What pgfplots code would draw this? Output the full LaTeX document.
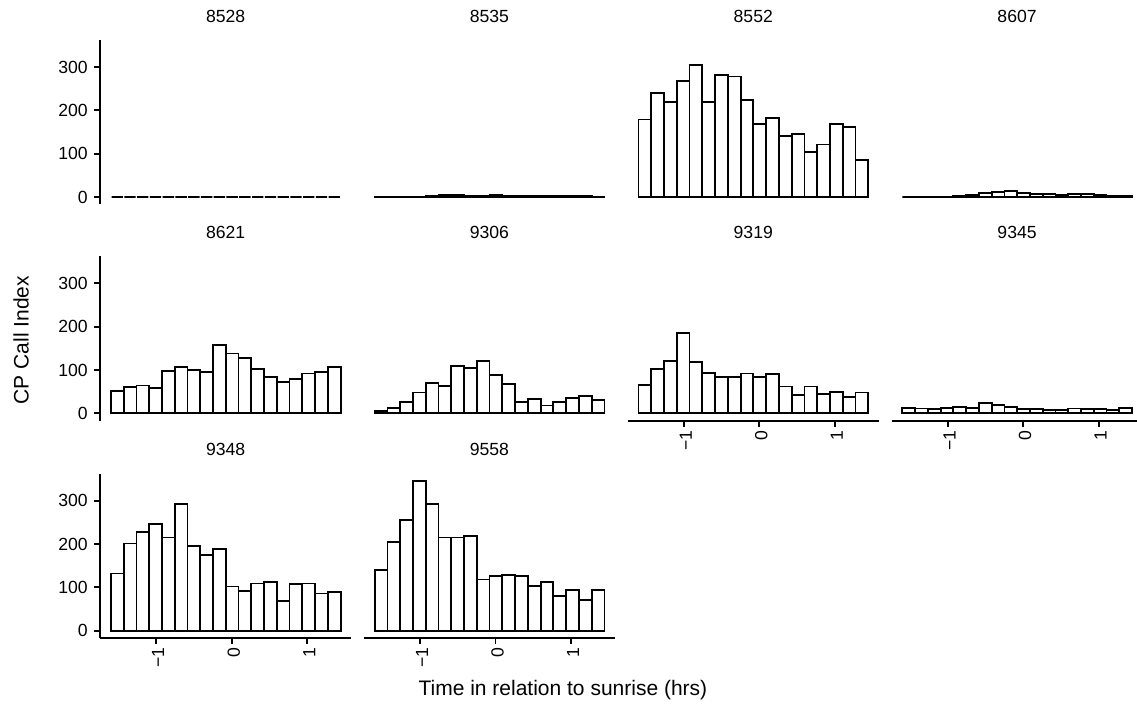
\documentclass[border=0pt]{standalone}
\usepackage{fontspec}
\setmainfont{Liberation Sans}
\usepackage{pgfplots}
\usepackage{pgfplotstable}
\pgfplotsset{compat=1.18}

\newcommand\tickfont{\fontsize{17.6pt}{20pt}\selectfont}
\newcommand\labfont{\fontsize{21pt}{24pt}\selectfont}

\pgfplotstableread{
x      a8528 a8535 a8552 a8607 a8621 a9306 a9319 a9345 a9348 a9558
-1.515 0     1     179   0     52    6     66    12    132   140
-1.346 0     1     240   0     60    12    103   11    201   204
-1.177 0     1     219   0     64    26    121   9     228   255
-1.008 0     1     268   1     58    48    186   13    246   345
-0.839 0     2     305   2     97    70    118   14    215   292
-0.670 0     4     219   5     106   63    93    13    292   215
-0.501 0     4     282   9     100   110   84    23    195   215
-0.332 0     2     278   11    95    105   84    20    174   219
-0.163 0     2     223   14    158   120   92    14    188   118
0.006  0     5     168   10    138   88    84    9     102   126
0.175  0     2     182   6     127   68    90    9     92    129
0.344  0     2     141   6     103   26    62    7     109   126
0.513  0     2     145   5     84    33    42    7     113   103
0.682  0     2     104   6     73    18    62    11    68    112
0.851  0     2     121   6     80    26    44    9     107   80
1.020  0     2     169   5     92    35    50    9     109   93
1.189  0     2     162   3     95    40    38    8     86    70
1.358  0     1     85    3     107   31    48    12    90    93
}\data

\pgfplotsset{
  panel/.style={
    scale only axis, width=250.7pt, height=164.4pt,
    xmin=-1.74, xmax=1.58, ymin=-17.3, ymax=362,
    axis x line*=bottom, axis y line*=left,
    axis line style={line width=1.9pt, -, black},
    every tick/.style={line width=1.9pt, black},
    tick align=outside, major tick length=6pt,
    xtick={-1,0,1}, xticklabels={−1,0,1},
    ytick={0,100,200,300}, yticklabels={0,100,200,300},
    ticklabel style={font=\tickfont, black},
    yticklabel style={xshift=-3pt},
    xticklabel style={rotate=90, anchor=east, yshift=-2pt},
    title style={at={(0.5,1)}, anchor=base, yshift=11.8pt, font=\tickfont},
    ybar, bar width=0.169,
    clip=false,
  },
  bars/.style={fill=white, draw=black, line width=1.8pt},
}

\begin{document}
\begin{tikzpicture}[x=1pt,y=1pt]
\useasboundingbox (0,0) rectangle (1137,706);
% row 1
\begin{axis}[panel, at={(100.3pt,501.5pt)}, anchor=south west, title={8528}, hide x axis]
\addplot[bars, bar width=0.150] table[x=x, y=a8528] {\data};
\end{axis}
\begin{axis}[panel, at={(364.1pt,501.5pt)}, anchor=south west, title={8535}, hide x axis, hide y axis]
\addplot[bars] table[x=x, y=a8535] {\data};
\end{axis}
\begin{axis}[panel, at={(627.9pt,501.5pt)}, anchor=south west, title={8552}, hide x axis, hide y axis]
\addplot[bars] table[x=x, y=a8552] {\data};
\end{axis}
\begin{axis}[panel, at={(891.7pt,501.5pt)}, anchor=south west, title={8607}, hide x axis, hide y axis]
\addplot[bars] table[x=x, y=a8607] {\data};
\end{axis}
% row 2
\begin{axis}[panel, at={(100.3pt,285.2pt)}, anchor=south west, title={8621}, hide x axis,
  ylabel={CP Call Index}, ylabel style={at={(axis description cs:-0.316,0.49)}, anchor=center, font=\labfont}]
\addplot[bars] table[x=x, y=a8621] {\data};
\end{axis}
\begin{axis}[panel, at={(364.1pt,285.2pt)}, anchor=south west, title={9306}, hide x axis, hide y axis]
\addplot[bars] table[x=x, y=a9306] {\data};
\end{axis}
\begin{axis}[panel, at={(627.9pt,285.2pt)}, anchor=south west, title={9319}, hide y axis]
\addplot[bars] table[x=x, y=a9319] {\data};
\end{axis}
\begin{axis}[panel, at={(891.7pt,285.2pt)}, anchor=south west, title={9345}, hide y axis]
\addplot[bars] table[x=x, y=a9345] {\data};
\end{axis}
% row 3
\begin{axis}[panel, at={(100.3pt,67.8pt)}, anchor=south west, title={9348}]
\addplot[bars] table[x=x, y=a9348] {\data};
\end{axis}
\begin{axis}[panel, at={(364.1pt,67.8pt)}, anchor=south west, title={9558}, hide y axis,
  xlabel={Time in relation to sunrise (hrs)}, xlabel style={at={(axis description cs:0.793,-0.315)}, anchor=center, font=\labfont}]
\addplot[bars] table[x=x, y=a9558] {\data};
\end{axis}
\end{tikzpicture}
\end{document}
